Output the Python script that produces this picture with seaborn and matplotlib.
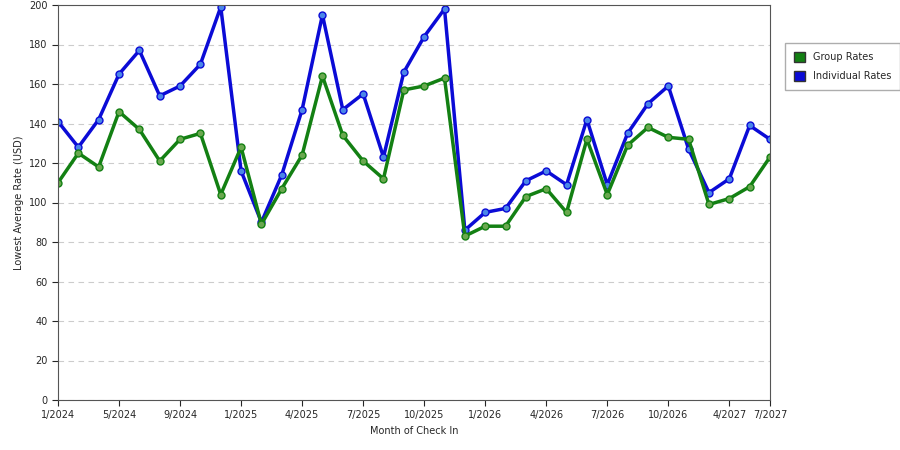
import matplotlib
matplotlib.use("Agg")
import matplotlib.pyplot as plt
import seaborn as sns
import pandas as pd
from matplotlib.patches import Patch

individual = [141,128,142,165,177,154,159,170,199,116,90,114,147,195,147,155,123,166,184,198,
              86,95,97,111,116,109,142,109,135,150,159,127,105,112,139,132]
group = [110,125,118,146,137,121,132,135,104,128,89,107,124,164,134,121,112,157,159,163,
         83,88,88,103,107,95,132,104,129,138,133,132,99,102,108,123]
tick_pos = [0,3,6,9,12,15,18,21,24,27,30,33,35]
tick_labels = ["1/2024","5/2024","9/2024","1/2025","4/2025","7/2025","10/2025","1/2026",
               "4/2026","7/2026","10/2026","4/2027","7/2027"]

sns.set_style("white")
plt.rcParams['font.family'] = ['DejaVu Sans']
fig = plt.figure(figsize=(9, 4.5), dpi=100)
ax = fig.add_axes([58/900, 50/450, 712/900, 395/450])
idx = list(range(len(group)))
df = pd.DataFrame({"i": idx*2, "v": group+individual,
                   "s": ["Group Rates"]*len(group)+["Individual Rates"]*len(individual)})
colors = {"Group Rates": "#138013", "Individual Rates": "#0b0bd6"}
mk = {"Group Rates": "#6aa84f", "Individual Rates": "#4a86e8"}
for name in ["Individual Rates", "Group Rates"]:
    d = df[df.s == name]
    sns.lineplot(data=d, x="i", y="v", ax=ax, color=colors[name], lw=2.5,
                 marker="o", markersize=5, markerfacecolor=mk[name],
                 markeredgecolor=colors[name], markeredgewidth=1)
ax.set_xlim(0, 35)
ax.set_ylim(0, 200)
ax.set_yticks(range(0, 201, 20))
ax.set_xticks(tick_pos)
ax.set_xticklabels(tick_labels, fontsize=7)
ax.tick_params(axis='y', labelsize=7, length=4, left=True)
ax.tick_params(axis='x', length=4, bottom=True)
ax.yaxis.grid(True, ls=(0, (5, 4)), color="#cccccc", lw=0.8)
ax.set_xlabel("Month of Check In", fontsize=7)
ax.set_ylabel("Lowest Average Rate (USD)", fontsize=7)
for s in ax.spines.values():
    s.set_color("#555555")
handles = [Patch(facecolor=colors["Group Rates"], edgecolor="#333333", label="Group Rates"),
           Patch(facecolor=colors["Individual Rates"], edgecolor="#333333", label="Individual Rates")]
fig.legend(handles=handles, loc="upper left", bbox_to_anchor=(780/900, 1-38/450),
           fontsize=7, frameon=True, fancybox=False, edgecolor="#999999",
           handlelength=1.2, handleheight=1.2, borderpad=0.9, labelspacing=0.9)
fig.savefig("out.png", dpi=100)
